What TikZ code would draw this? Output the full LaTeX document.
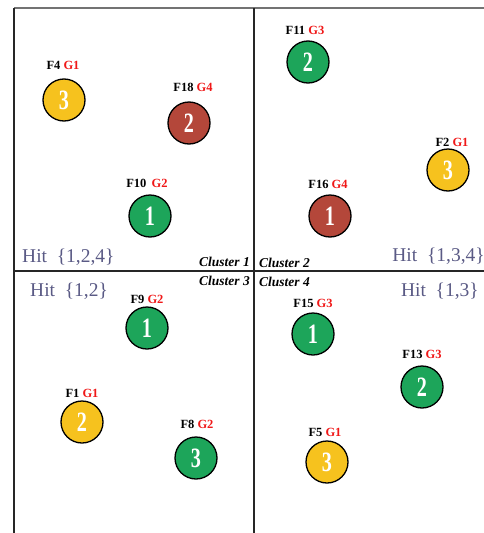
\documentclass[tikz,border=0pt]{standalone}
\usepackage{fontspec}
\setmainfont{Liberation Serif}
\definecolor{cgreen}{HTML}{1DA55A}
\definecolor{cyellow}{HTML}{F6C21E}
\definecolor{cbrown}{HTML}{B4473A}
\definecolor{hitcol}{HTML}{5A5A85}
\definecolor{gred}{HTML}{F01818}
\tikzset{
  ball/.style={circle,draw=black,line width=1.3pt,minimum size=42pt,inner sep=0pt,text=white,
    font=\bfseries\fontsize{28}{28}\selectfont},
  gball/.style={ball,fill=cgreen},
  yball/.style={ball,fill=cyellow},
  rball/.style={ball,fill=cbrown},
  tag/.style={font=\bfseries\fontsize{12.5}{12.5}\selectfont,inner sep=0pt},
  hit/.style={text=hitcol,font=\fontsize{19.5}{19.5}\selectfont,inner sep=0pt},
  clus/.style={font=\bfseries\itshape\fontsize{13.5}{13.5}\selectfont,inner sep=0pt},
  frame/.style={line width=1.3pt,draw=black!85}
}
\newcommand{\tg}[2]{#1 \textcolor{gred}{#2}}
\newcommand{\dg}[1]{\scalebox{0.72}[1]{#1}}
\begin{document}
\begin{tikzpicture}[x=1pt,y=-1pt]
\useasboundingbox (0,0) rectangle (484,533);
% frame
\coordinate (tl) at (14,8);
\coordinate (tr) at (484,8);
\coordinate (bl) at (14,533);
\coordinate (mt) at (254,8);
\coordinate (mb) at (254,533);
\coordinate (ml) at (14,271);
\coordinate (mr) at (484,271);
\draw[frame,draw=black!55,line width=2pt] (tl) -- (tr);
\draw[frame] (tl) -- (bl);
\draw[frame] (mt) -- (mb);
\draw[frame] (ml) -- (mr);
% cluster 1
\node[yball] (f4) at (64,100) {\dg{3}};
\node[tag] (f4t) at (63,65) {\tg{F4}{G1}};
\node[rball] (f18) at (189,123) {\dg{2}};
\node[tag] (f18t) at (193,87) {\tg{F18}{G4}};
\node[gball] (f10) at (150,216) {\dg{1}};
\node[tag] (f10t) at (147,183) {\tg{F10\,}{G2}};
% cluster 2
\node[gball] (f11) at (308,62) {\dg{2}};
\node[tag] (f11t) at (305,30) {\tg{F11}{G3}};
\node[yball] (f2) at (448,170) {\dg{3}};
\node[tag] (f2t) at (452,142) {\tg{F2}{G1}};
\node[rball] (f16) at (330,216) {\dg{1}};
\node[tag] (f16t) at (328,184) {\tg{F16}{G4}};
% cluster 3
\node[gball] (f9) at (147,328) {\dg{1}};
\node[tag] (f9t) at (147,299) {\tg{F9}{G2}};
\node[yball] (f1) at (82,422) {\dg{2}};
\node[tag] (f1t) at (82,393) {\tg{F1}{G1}};
\node[gball] (f8) at (196,458) {\dg{3}};
\node[tag] (f8t) at (197,424) {\tg{F8}{G2}};
% cluster 4
\node[gball] (f15) at (313,334) {\dg{1}};
\node[tag] (f15t) at (313,303) {\tg{F15}{G3}};
\node[gball] (f13) at (422,387) {\dg{2}};
\node[tag] (f13t) at (422,354) {\tg{F13}{G3}};
\node[yball] (f5) at (327,462) {\dg{3}};
\node[tag] (f5t) at (325,432) {\tg{F5}{G1}};
% hit labels
\node[hit,anchor=west] (h1) at (22,257) {Hit\ \ \{1,2,4\}};
\node[hit,anchor=east] (h2) at (485,256) {Hit\ \ \{1,3,4\}};
\node[hit,anchor=west] (h3) at (30,291) {Hit\ \ \{1,2\}};
\node[hit,anchor=east] (h4) at (479,291) {Hit\ \ \{1,3\}};
% cluster labels
\node[clus,anchor=east] (c1) at (250,262) {Cluster 1};
\node[clus,anchor=west] (c2) at (259,263) {Cluster 2};
\node[clus,anchor=east] (c3) at (250,281) {Cluster 3};
\node[clus,anchor=west] (c4) at (259,282) {Cluster 4};
\end{tikzpicture}
\end{document}
